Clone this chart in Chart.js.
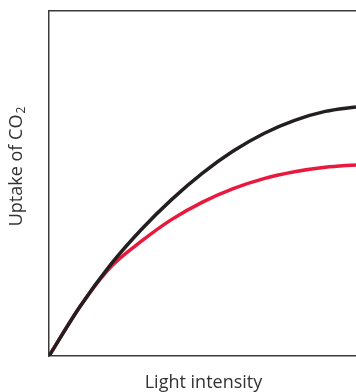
<!DOCTYPE html>
<html>
<head>
<meta charset="utf-8">
<script src="https://cdn.jsdelivr.net/npm/chart.js@4.4.0/dist/chart.umd.min.js"></script>
<style>
    html, body { margin: 0; padding: 0; background: #ffffff; }
    #wrap { width: 356px; height: 392px; }
</style>
</head>
<body>
<div id="wrap"><canvas id="chart" width="356" height="392"></canvas></div>
<script>
// Light intensity (relative, 0-100) and CO2 uptake
const lightLevels = [0, 10, 20, 30, 40, 50, 60, 70, 80, 90, 100];
const uptakeBlack = [0, 14.2, 26.4, 36.6, 45.4, 53.0, 59.4, 64.5, 68.3, 70.9, 72.2];
const uptakeRed = [0, 14.2, 25.7, 33.2, 39.6, 44.6, 48.5, 51.4, 53.4, 54.7, 55.4];

const xTitle = 'Light intensity';
const yTitle = 'Uptake of CO';
const yTitleSub = '2';

const axisColor = '#3a3a3a';
const textColor = '#333333';
const fontFamily = '"Open Sans", "Noto Sans", sans-serif';

const toPoints = (ys) => lightLevels.map((x, i) => ({x: x, y: ys[i]}));

// draws the axis titles (the y one needs a real subscript)
const axisTitles = {
    id: 'axisTitles',
    afterDraw(chart) {
        const c = chart.ctx;
        const area = chart.chartArea;
        c.save();
        c.fillStyle = textColor;
        c.textBaseline = 'alphabetic';

        // x title
        c.font = '18px ' + fontFamily;
        c.textAlign = 'center';
        c.fillText(xTitle, (area.left + area.right) / 2 + 1, 388);

        // y title, rotated
        c.translate(22, 166.5);
        c.rotate(-Math.PI / 2);
        c.textAlign = 'left';
        c.font = '18px ' + fontFamily;
        const w1 = c.measureText(yTitle).width;
        c.font = '12px ' + fontFamily;
        const w2 = c.measureText(yTitleSub).width;
        const start = -(w1 + w2 + 1) / 2;
        c.font = '18px ' + fontFamily;
        c.fillText(yTitle, start, 0);
        c.font = '12px ' + fontFamily;
        c.fillText(yTitleSub, start + w1 + 1, 3);
        c.restore();
    }
};

const ctx = document.getElementById('chart').getContext('2d');
new Chart(ctx, {
    type: 'line',
    data: {
        datasets: [
            {
                label: 'Black',
                data: toPoints(uptakeBlack),
                borderColor: '#231f20',
                borderWidth: 3.5,
                pointRadius: 0,
                cubicInterpolationMode: 'monotone',
                fill: false
            },
            {
                label: 'Red',
                data: toPoints(uptakeRed),
                borderColor: '#e8193c',
                borderWidth: 3.5,
                pointRadius: 0,
                cubicInterpolationMode: 'monotone',
                fill: false
            }
        ]
    },
    options: {
        responsive: false,
        animation: false,
        layout: { padding: 0 },
        plugins: {
            legend: { display: false },
            tooltip: { enabled: false }
        },
        scales: {
            x: {
                type: 'linear',
                min: 0,
                max: 100,
                grid: { display: false },
                ticks: { display: false },
                border: { display: true, color: axisColor, width: 1.5 },
                afterFit(scale) { scale.height = 36; }
            },
            xTop: {
                type: 'linear',
                position: 'top',
                min: 0,
                max: 100,
                grid: { display: false },
                ticks: { display: false },
                border: { display: true, color: axisColor, width: 1.5 },
                afterFit(scale) { scale.height = 11; }
            },
            y: {
                min: 0,
                max: 100,
                grid: { display: false },
                ticks: { display: false },
                border: { display: true, color: axisColor, width: 1.5 },
                afterFit(scale) { scale.width = 49; }
            }
        }
    },
    plugins: [axisTitles]
});
</script>
</body>
</html>
